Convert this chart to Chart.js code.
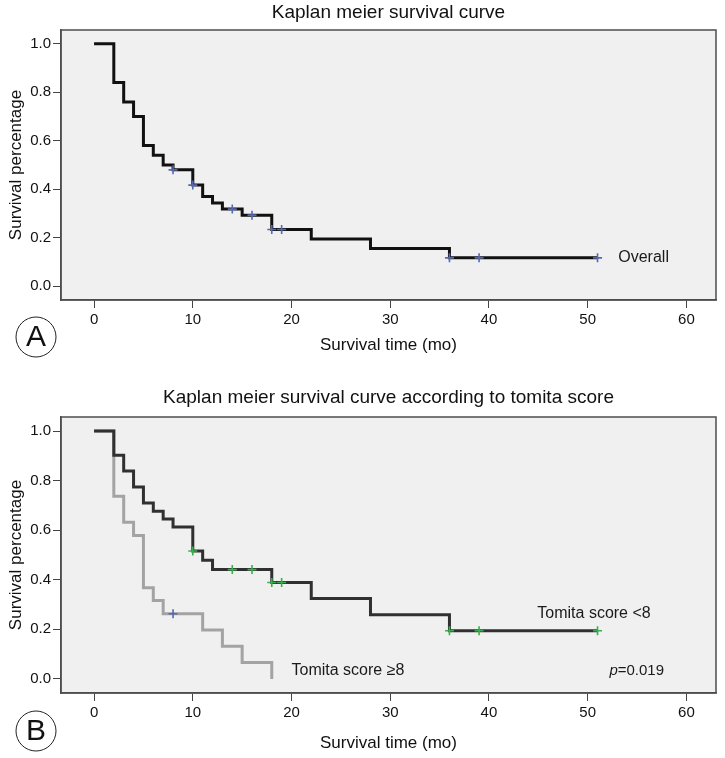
<!DOCTYPE html>
<html>

<head>
    <meta charset="utf-8" />
    <style>
        body { margin: 0; background: #ffffff; }
        .panel { position: absolute; left: 0; width: 725px; }
    </style>
</head>

<body>
    <div class="panel" style="top:0px; height:370px;">
        <canvas id="chartA" width="725" height="370"></canvas>
    </div>
    <div class="panel" style="top:380px; height:378px;">
        <canvas id="chartB" width="725" height="378"></canvas>
    </div>

    <script src="https://cdn.jsdelivr.net/npm/chart.js@4.4.0/dist/chart.umd.min.js"></script>

    <script>
        // tick labels
        const xTicks = [0, 10, 20, 30, 40, 50, 60];
        const yTicks = [0, 0.2, 0.4, 0.6, 0.8, 1.0];

        // panel A - overall
        const overallTime = [0, 2, 3, 4, 5, 6, 7, 8, 10, 11, 12, 13, 15, 18, 22, 28, 36, 51];
        const overallSurv = [1, 0.84, 0.76, 0.70, 0.58, 0.54, 0.50, 0.48, 0.417, 0.37, 0.343, 0.318, 0.293, 0.234, 0.195, 0.156, 0.117, 0.117];
        const overallCensor = [8, 10, 14, 16, 18, 19, 36, 39, 51];

        // panel B - tomita score < 8
        const lowTime = [0, 2, 3, 4, 5, 6, 7, 8, 10, 11, 12, 18, 22, 28, 36, 51];
        const lowSurv = [1, 0.903, 0.839, 0.774, 0.71, 0.677, 0.645, 0.613, 0.516, 0.479, 0.441, 0.389, 0.324, 0.259, 0.194, 0.194];
        const lowCensor = [10, 14, 16, 18, 19, 36, 39, 51];

        // panel B - tomita score >= 8
        const highTime = [0, 2, 3, 4, 5, 6, 7, 11, 13, 15, 18];
        const highSurv = [1, 0.737, 0.632, 0.579, 0.368, 0.316, 0.263, 0.197, 0.132, 0.066, 0];
        const highCensor = [8];

        const FONT = '"Liberation Sans", Arial, sans-serif';

        function survAt(times, surv, t) {
            let s = surv[0];
            for (let i = 0; i < times.length; i++) {
                if (times[i] <= t) s = surv[i];
            }
            return s;
        }

        function curve(times, surv) {
            return times.map((t, i) => ({ x: t, y: surv[i] }));
        }

        function censorPts(censor, times, surv) {
            return censor.map(t => ({ x: t, y: survAt(times, surv, t) }));
        }

        // plot background + frame + panel letter
        const framePlugin = {
            id: 'frame',
            beforeDraw(chart) {
                const a = chart.chartArea;
                const ctx = chart.ctx;
                ctx.save();
                ctx.fillStyle = '#f0f0f0';
                ctx.fillRect(a.left, a.top, a.right - a.left, a.bottom - a.top);
                ctx.restore();
            },
            afterDraw(chart) {
                const a = chart.chartArea;
                const ctx = chart.ctx;
                const opt = chart.options.plugins.frame;
                ctx.save();
                ctx.strokeStyle = '#4d4d4d';
                ctx.lineWidth = 1.5;
                ctx.strokeRect(a.left, a.top, a.right - a.left, a.bottom - a.top);

                // panel letter in a circle
                ctx.beginPath();
                ctx.arc(36, opt.letterY, 20, 0, Math.PI * 2);
                ctx.lineWidth = 1;
                ctx.strokeStyle = '#222';
                ctx.stroke();
                ctx.fillStyle = '#111';
                ctx.font = '30px ' + FONT;
                ctx.textAlign = 'center';
                ctx.textBaseline = 'middle';
                ctx.fillText(opt.letter, 36, opt.letterY + 1);

                // curve labels
                const xs = chart.scales.x, ys = chart.scales.y;
                ctx.textAlign = 'left';
                ctx.fillStyle = '#1a1a1a';
                (opt.labels || []).forEach(l => {
                    let px = xs.getPixelForValue(l.x);
                    const py = ys.getPixelForValue(l.y);
                    if (l.italic) {
                        ctx.font = 'italic ' + l.size + 'px ' + FONT;
                        ctx.fillText(l.italic, px, py);
                        px += ctx.measureText(l.italic).width;
                    }
                    ctx.font = l.size + 'px ' + FONT;
                    ctx.fillText(l.text, px, py);
                });
                ctx.restore();
            }
        };

        function makeOptions(cfg) {
            return {
                responsive: false,
                animation: false,
                layout: { padding: { left: 0, right: 9, top: 0, bottom: 0 } },
                plugins: {
                    legend: { display: false },
                    tooltip: { enabled: false },
                    title: {
                        display: true,
                        text: cfg.title,
                        fullSize: false,
                        color: '#111',
                        font: { family: FONT, size: 19, weight: 'normal' },
                        padding: cfg.titlePad
                    },
                    frame: cfg.frame
                },
                scales: {
                    x: {
                        type: 'linear',
                        min: -3.35,
                        max: 63,
                        afterFit(scale) { scale.height = cfg.xHeight; },
                        afterBuildTicks(scale) { scale.ticks = xTicks.map(v => ({ value: v })); },
                        ticks: {
                            color: '#111',
                            padding: 3,
                            font: { family: FONT, size: 15 },
                            callback: v => String(v)
                        },
                        grid: { drawOnChartArea: false, drawTicks: true, tickLength: 8, color: '#444' },
                        border: { display: true, color: '#4d4d4d', width: 1.5 },
                        title: {
                            display: true,
                            text: 'Survival time (mo)',
                            color: '#111',
                            font: { family: FONT, size: 17 },
                            padding: { top: 0, bottom: cfg.xTitlePad }
                        }
                    },
                    y: {
                        type: 'linear',
                        min: -0.057,
                        max: 1.057,
                        afterFit(scale) { scale.width = 61; },
                        afterBuildTicks(scale) { scale.ticks = yTicks.map(v => ({ value: v })); },
                        ticks: {
                            color: '#111',
                            padding: 2,
                            font: { family: FONT, size: 15 },
                            callback: v => Number(v).toFixed(1)
                        },
                        grid: { drawOnChartArea: false, drawTicks: true, tickLength: 8, color: '#444' },
                        border: { display: true, color: '#4d4d4d', width: 1.5 },
                        title: {
                            display: true,
                            text: 'Survival percentage',
                            color: '#111',
                            font: { family: FONT, size: 17 },
                            padding: { top: 6, bottom: 6 }
                        }
                    }
                }
            };
        }

        function lineSet(data, color, order) {
            return {
                type: 'line',
                data: data,
                stepped: 'before',
                borderColor: color,
                borderWidth: 3,
                pointRadius: 0,
                fill: false,
                order: order
            };
        }

        function censorSet(data, color) {
            return {
                type: 'scatter',
                data: data,
                showLine: false,
                pointStyle: 'cross',
                pointRadius: 4.5,
                pointBorderWidth: 1.6,
                pointBorderColor: color,
                pointBackgroundColor: color,
                order: 0
            };
        }

        let chartA = new Chart(document.getElementById('chartA'), {
            type: 'line',
            data: {
                datasets: [
                    lineSet(curve(overallTime, overallSurv), '#111111', 1),
                    censorSet(censorPts(overallCensor, overallTime, overallSurv), '#5468b4')
                ]
            },
            options: makeOptions({
                title: 'Kaplan meier survival curve',
                titlePad: { top: 1.6, bottom: 5.6 },
                xHeight: 70,
                xTitlePad: 14.8,
                frame: {
                    letter: 'A',
                    letterY: 337,
                    labels: [{ text: 'Overall', x: 53.1, y: 0.117, size: 16 }]
                }
            }),
            plugins: [framePlugin]
        });

        let chartB = new Chart(document.getElementById('chartB'), {
            type: 'line',
            data: {
                datasets: [
                    lineSet(curve(lowTime, lowSurv), '#303030', 1),
                    lineSet(curve(highTime, highSurv), '#a3a3a3', 2),
                    censorSet(censorPts(lowCensor, lowTime, lowSurv), '#3aae4e'),
                    censorSet(censorPts(highCensor, highTime, highSurv), '#5468b4')
                ]
            },
            options: makeOptions({
                title: 'Kaplan meier survival curve according to tomita score',
                titlePad: { top: 6.6, bottom: 7.6 },
                xHeight: 65,
                xTitlePad: 4.8,
                frame: {
                    letter: 'B',
                    letterY: 351,
                    labels: [
                        { text: 'Tomita score <8', x: 44.9, y: 0.262, size: 16 },
                        { text: 'Tomita score \u22658', x: 20.0, y: 0.032, size: 16 },
                        { italic: 'p', text: '=0.019', x: 52.2, y: 0.032, size: 15 }
                    ]
                }
            }),
            plugins: [framePlugin]
        });
    </script>
</body>

</html>
